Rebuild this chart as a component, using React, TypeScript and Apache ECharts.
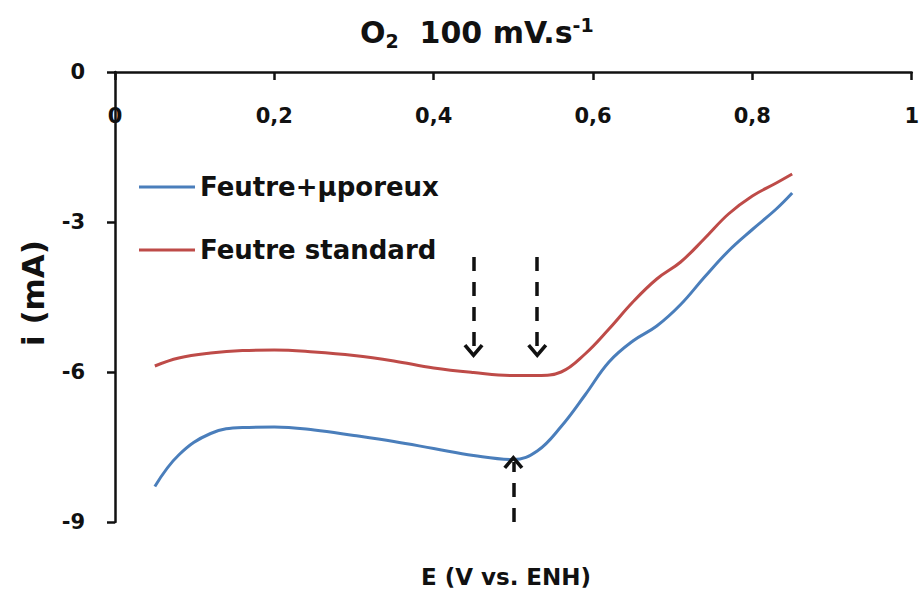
import React, { useEffect, useRef } from "react";
import * as echarts from "echarts";

// Potential E (V vs. ENH)
const E = [0.05, 0.08, 0.12, 0.16, 0.2, 0.25, 0.3, 0.35, 0.4, 0.45, 0.5, 0.53, 0.56, 0.59, 0.62, 0.65, 0.68, 0.71, 0.74, 0.77, 0.8, 0.83, 0.85];
// Current i (mA)
const feutrePoreux = [-8.29, -7.66, -7.23, -7.11, -7.1, -7.16, -7.27, -7.39, -7.53, -7.67, -7.75, -7.58, -7.09, -6.46, -5.8, -5.38, -5.08, -4.65, -4.1, -3.58, -3.15, -2.74, -2.42];
const feutreStandard = [-5.88, -5.72, -5.62, -5.57, -5.56, -5.6, -5.67, -5.78, -5.92, -6.01, -6.07, -6.07, -6.0, -5.64, -5.14, -4.6, -4.14, -3.8, -3.33, -2.84, -2.48, -2.22, -2.04];

const seriesNames = ["Feutre+µporeux", "Feutre standard"];
const xTicks = { min: 0, max: 1, interval: 0.2 };
const yTicks = { min: -9, max: 0, interval: 3 };

// Arrow annotations [E, iStart, iEnd]
const downArrows = [
  [0.45, -3.7, -5.58],
  [0.53, -3.7, -5.58],
];
const upArrows = [[0.5, -9.0, -7.8]];

const chevron = "path://M10,0 L20,11 L17.2,13 L10,5.2 L2.8,13 L0,11 Z";

export default function App() {
  const ref = useRef<HTMLDivElement>(null);
  useEffect(() => {
    if (!ref.current) return;
    const chart = echarts.init(ref.current, undefined, { renderer: "svg" });
    const font = "DejaVu Sans";
    const arrowLine = (arr: number[][]) =>
      arr.map(([e, a, b]) => [{ coord: [e, a] }, { coord: [e, b] }]);
    const markLineCommon = {
      silent: true,
      symbol: ["none", chevron],
      symbolSize: [20, 14],
      label: { show: false },
      lineStyle: { color: "#111", width: 3.5, type: [14, 11] },
      emphasis: { disabled: true },
    };
    chart.setOption({
      animation: false,
      backgroundColor: "#fff",
      textStyle: { fontFamily: font },
      title: {
        text: "{o|O}{s|2}{o|  100 mV.s}{p|-1}",
        left: 355,
        top: 9,
        textStyle: {
          rich: {
            o: { fontSize: 30, fontWeight: "bold", color: "#111", fontFamily: font },
            s: { fontSize: 19, fontWeight: "bold", color: "#111", fontFamily: font, padding: [17, 0, 0, 0] },
            p: { fontSize: 19, fontWeight: "bold", color: "#111", fontFamily: font, padding: [0, 0, 15, 0] },
          },
        },
      },
      legend: {
        orient: "vertical",
        left: 134,
        top: 166,
        icon: "rect",
        itemWidth: 56,
        itemHeight: 3,
        itemGap: 31,
        textStyle: { fontSize: 26, fontWeight: "bold", color: "#111", fontFamily: font, lineHeight: 32 },
        data: seriesNames,
      },
      grid: { left: 115, right: 8, top: 72, bottom: 76 },
      xAxis: {
        type: "value",
        position: "top",
        min: xTicks.min,
        max: xTicks.max,
        interval: xTicks.interval,
        axisLine: { onZero: false, lineStyle: { color: "#111", width: 2.5 } },
        axisTick: { inside: true, length: 8, lineStyle: { color: "#111", width: 2.5 } },
        axisLabel: {
          inside: true,
          margin: 33,
          fontSize: 21,
          fontWeight: "bold",
          color: "#111",
          fontFamily: font,
          formatter: (v: number) => String(Math.round(v * 10) / 10).replace(".", ","),
        },
        splitLine: { show: false },
      },
      yAxis: {
        type: "value",
        min: yTicks.min,
        max: yTicks.max,
        interval: yTicks.interval,
        axisLine: { show: true, onZero: false, lineStyle: { color: "#111", width: 2.5 } },
        axisTick: { show: true, length: 8, lineStyle: { color: "#111", width: 2.5 } },
        axisLabel: { margin: 30, fontSize: 21, fontWeight: "bold", color: "#111", fontFamily: font },
        splitLine: { show: false },
        name: "i (mA)",
        nameLocation: "middle",
        nameRotate: 90,
        nameGap: 67,
        nameTextStyle: { fontSize: 31, fontWeight: "bold", color: "#111", fontFamily: font, padding: [0, 0, 0, 8] },
      },
      graphic: [
        {
          type: "text",
          x: 506,
          y: 565,
          style: { text: "E (V vs. ENH)", fontSize: 23, fontWeight: "bold", fill: "#111", fontFamily: font, align: "center" },
        },
      ],
      series: [
        {
          name: seriesNames[0],
          type: "line",
          smooth: 0.4,
          showSymbol: false,
          lineStyle: { color: "#4a7ebb", width: 3 },
          itemStyle: { color: "#4a7ebb" },
          data: E.map((e, i) => [e, feutrePoreux[i]]),
          markLine: { ...markLineCommon, data: arrowLine(upArrows) },
        },
        {
          name: seriesNames[1],
          type: "line",
          smooth: 0.4,
          showSymbol: false,
          lineStyle: { color: "#be4b48", width: 3 },
          itemStyle: { color: "#be4b48" },
          data: E.map((e, i) => [e, feutreStandard[i]]),
          markLine: { ...markLineCommon, data: arrowLine(downArrows) },
        },
      ],
    });
    return () => chart.dispose();
  }, []);
  return <div ref={ref} style={{ width: 922, height: 598, position: "absolute", left: 0, top: 0 }} />;
}
